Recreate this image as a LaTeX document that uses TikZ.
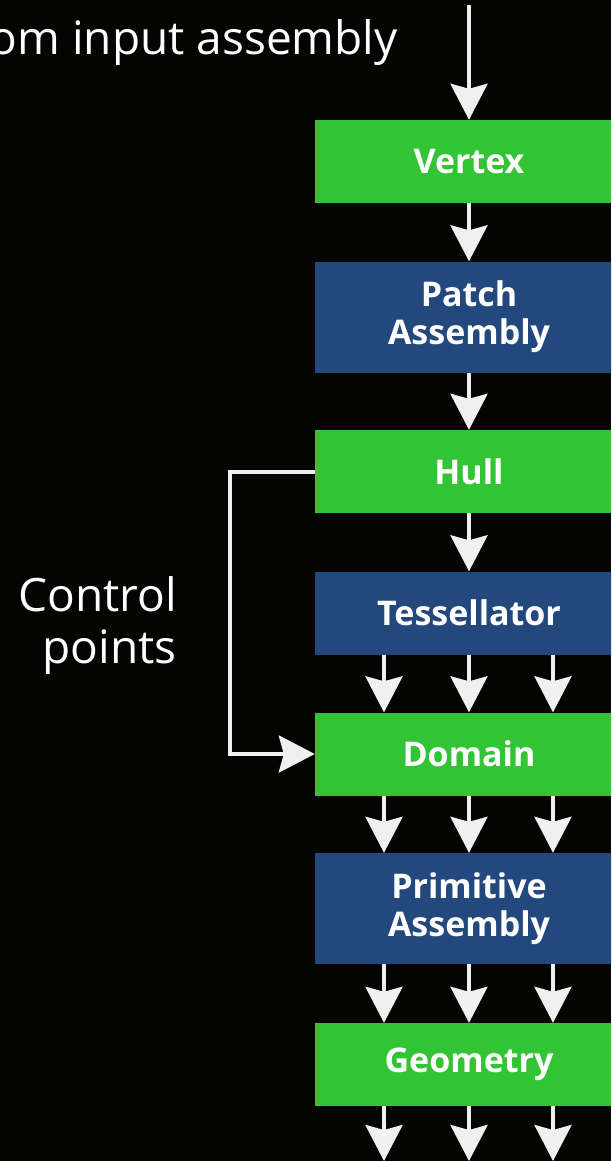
\documentclass[tikz,border=0pt]{standalone}
\usepackage{fontspec}
\setmainfont{Open Sans}
\usetikzlibrary{arrows.meta}
\definecolor{stagegreen}{RGB}{51,196,53}
\definecolor{stageblue}{RGB}{34,72,126}
\definecolor{flowgray}{RGB}{240,240,240}
\definecolor{backdrop}{RGB}{4,4,2}

\begin{document}
\begin{tikzpicture}
  [x=1pt,y=-1pt,
   stage/.style={rectangle,minimum width=308pt,minimum height=83pt,inner sep=0pt,
     text=white,font=\fontsize{34}{38}\selectfont\bfseries,align=center},
   green stage/.style={stage,fill=stagegreen},
   blue stage/.style={stage,fill=stageblue},
   tall/.style={minimum height=111pt},
   flow/.style={draw=flowgray,line width=4pt,-{Stealth[length=36pt,width=37pt,inset=5pt]}},
   caption/.style={text=white,font=\fontsize{46}{52}\selectfont,inner sep=0pt}]
  \clip (0,0) rectangle (611,1161);
  \fill[backdrop] (0,0) rectangle (611,1161);

  % pipeline stages
  \node[green stage] (vertex) at (469,161.5) {Vertex};
  \node[blue stage,tall] (patch) at (469,317) {Patch\\Assembly};
  \node[green stage] (hull) at (469,471.5) {Hull};
  \node[blue stage] (tess) at (469,613) {Tessellator};
  \node[green stage] (domain) at (469,754) {Domain};
  \node[blue stage,tall] (prim) at (469,908.5) {Primitive\\Assembly};
  \node[green stage] (geom) at (469,1064.5) {Geometry};

  \coordinate (in) at (469,5);
  \coordinate (out) at (469,1161);

  \node[caption,anchor=base east] (source) at (398,55) {From input assembly};
  \node[caption,align=right,anchor=north east] (points) at (177,576) {Control\\points};

  % single stream on top
  \draw[flow] (in) -- (vertex);
  \foreach \from/\to in {vertex/patch,patch/hull,hull/tess}
    \draw[flow] (\from) -- (\to);

  % three streams after the tessellator
  \foreach \from/\to in {tess/domain,domain/prim,prim/geom}
    \foreach \dx in {-85,0,84}
      \draw[flow] ([xshift=\dx pt]\from.south) -- ([xshift=\dx pt]\to.north);
  \foreach \dx in {-85,0,84}
    \draw[flow] ([xshift=\dx pt]geom.south) -- ([xshift=\dx pt]out);

  % control points bypass the tessellator
  \draw[flow] (hull.west) -- ++(-85,0) |- (domain.west);
\end{tikzpicture}
\end{document}
